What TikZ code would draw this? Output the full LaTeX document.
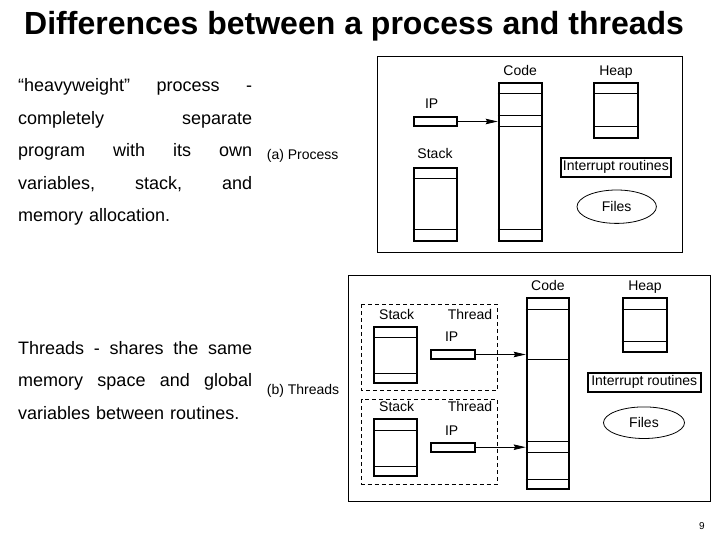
\documentclass[tikz,border=0pt]{standalone}
\usepackage{fontspec}
\setmainfont{Liberation Sans}
\usetikzlibrary{calc,shapes.geometric,arrows.meta}
\tikzset{
	seg/.style={draw, line width=2pt, inner sep=0pt},
	lbl/.style={font=\fontsize{14}{16}\selectfont, inner sep=0pt, anchor=base},
	row/.style={line width=0.8pt},
	ptr/.style={line width=0.8pt, -{Stealth[length=12pt,width=5.5pt,inset=1.5pt]}},
	frm/.style={line width=1pt},
	thr/.style={line width=0.8pt, dash pattern=on 4pt off 3pt},
	txt/.style={font=\fontsize{18}{32.5}\selectfont, inner sep=0pt, anchor=base west, text width=234pt, align=left}
}
\newcommand\rowline[2]{\draw[row] ([yshift=-#2pt]#1.north west) -- ([yshift=-#2pt]#1.north east);}

\begin{document}
\begin{tikzpicture}[x=1pt,y=-1pt]
	\useasboundingbox (0,0) rectangle (720,540);
	\node[inner sep=0pt, anchor=base west, font=\fontsize{32}{36}\selectfont\bfseries] (title) at (24,34.3) {Differences between a process and threads};
	\node[txt] (heavy) at (18,91.7) {“heavyweight”\hfill process\hfill -\\
		completely\hfill separate\\
		program\hfill with\hfill its\hfill own\\
		variables,\hfill stack,\hfill and\\
		memory allocation.};
	\node[txt] (light) at (18,354) {Threads\hfill -\hfill shares\hfill the\hfill same\\
		memory\hfill space\hfill and\hfill global\\
		variables between routines.};
	\node[lbl, anchor=base west] (capA) at (266.7,160) {(a) Process};
	\node[lbl, anchor=base west] (capB) at (266.7,394) {(b) Threads};
	\node[inner sep=0pt, anchor=base, font=\fontsize{10}{12}\selectfont] (page) at (702,529) {9};
	% (a) process
	\draw[frm] (377,57) rectangle (682,252);
	\node[seg, minimum width=43pt, minimum height=158.3pt] (codeA) at (520.2,161.85) {};
	\node[seg, minimum width=43.4pt, minimum height=55.6pt] (heapA) at (616,110.5) {};
	\node[seg, minimum width=43.6pt, minimum height=9pt] (ipA) at (435.5,121.5) {};
	\node[seg, minimum width=43.3pt, minimum height=73.6pt] (stackA) at (435.35,204.5) {};
	\node[seg, minimum width=109.7pt, minimum height=19pt, font=\fontsize{14}{16}\selectfont] (intA) at (615.85,167.2) {Interrupt routines};
	\node[ellipse, draw, line width=0.8pt, inner sep=0pt, minimum width=79.4pt, minimum height=33.4pt, font=\fontsize{14}{16}\selectfont] (filesA) at (616.7,206.7) {Files};
	\foreach \d in {11.6,34,44.6,147.3} {\rowline{codeA}{\d}}
	\foreach \d in {11.6,45} {\rowline{heapA}{\d}}
	\foreach \d in {11.3,62.3} {\rowline{stackA}{\d}}
	\node[lbl] (codeAl) at (520.2,76) {Code};
	\node[lbl] (heapAl) at (616,76) {Heap};
	\node[lbl] (ipAl) at (431.7,108.3) {IP};
	\node[lbl] (stackAl) at (435,158.3) {Stack};
	\draw[ptr] (ipA.east) -- (ipA.east -| codeA.west);
	% (b) threads
	\draw[frm] (348.3,275) rectangle (710,501.7);
	\draw[thr] (361.7,304.3) rectangle (497.3,390.7);
	\draw[thr] (361.7,399.3) rectangle (497.3,484.3);
	\node[seg, minimum width=42.3pt, minimum height=190.7pt] (codeB) at (547.85,393.65) {};
	\node[seg, minimum width=44.6pt, minimum height=54pt] (heapB) at (645,325.3) {};
	\node[seg, minimum width=113pt, minimum height=19pt, font=\fontsize{14}{16}\selectfont] (intB) at (644.2,382.2) {Interrupt routines};
	\node[ellipse, draw, line width=0.8pt, inner sep=0pt, minimum width=81pt, minimum height=31.6pt, font=\fontsize{14}{16}\selectfont] (filesB) at (644,422.7) {Files};
	\node[seg, minimum width=43pt, minimum height=56.3pt] (stackB1) at (395.8,354.85) {};
	\node[seg, minimum width=43pt, minimum height=56.4pt] (stackB2) at (395.8,447.5) {};
	\node[seg, minimum width=43.7pt, minimum height=9pt] (ipB1) at (452.85,354.5) {};
	\node[seg, minimum width=43.7pt, minimum height=9pt] (ipB2) at (452.85,447.2) {};
	\foreach \d in {12,62,144.4,155,182} {\rowline{codeB}{\d}}
	\foreach \d in {12,44.4} {\rowline{heapB}{\d}}
	\foreach \d in {12,47.6} {\rowline{stackB1}{\d}}
	\foreach \d in {11.7,48.4} {\rowline{stackB2}{\d}}
	\node[lbl] (codeBl) at (547.9,290.7) {Code};
	\node[lbl] (heapBl) at (645,290.7) {Heap};
	\node[lbl] (stackB1l) at (396.7,319.3) {Stack};
	\node[lbl] (stackB2l) at (396.7,411.7) {Stack};
	\node[lbl] (thrB1l) at (470,319.3) {Thread};
	\node[lbl] (thrB2l) at (470,411.7) {Thread};
	\node[lbl] (ipB1l) at (451.7,341.7) {IP};
	\node[lbl] (ipB2l) at (451.7,435) {IP};
	\draw[ptr] (ipB1.east) -- (ipB1.east -| codeB.west);
	\draw[ptr] (ipB2.east) -- (ipB2.east -| codeB.west);
\end{tikzpicture}
\end{document}
